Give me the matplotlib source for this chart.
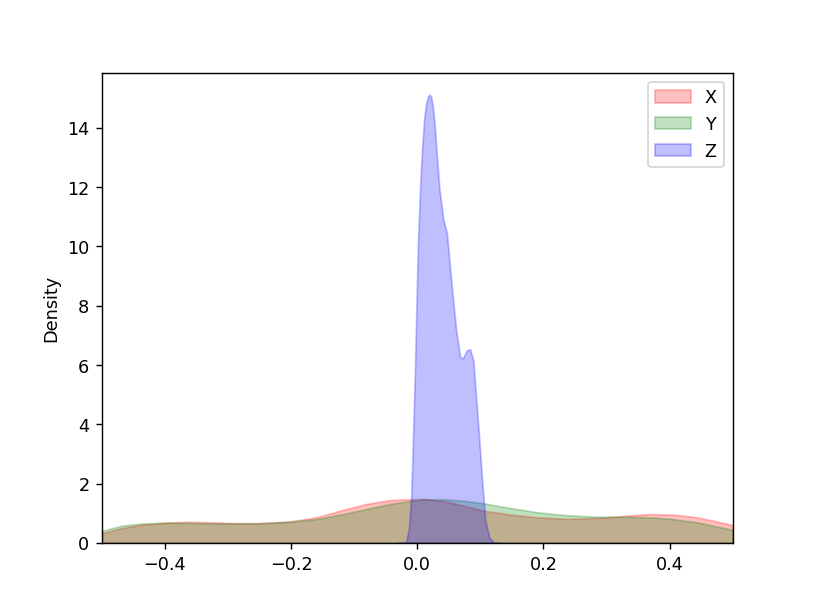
import matplotlib
matplotlib.use("Agg")
import matplotlib.pyplot as plt

# Density curves
x_grid = [-0.5, -0.468, -0.437, -0.397, -0.363, -0.326, -0.289, -0.252, -0.202, -0.160,
          -0.118, -0.081, -0.044, -0.012, 0.012, 0.043, 0.075, 0.106, 0.149, 0.191,
          0.238, 0.286, 0.328, 0.370, 0.407, 0.444, 0.475, 0.5]
x_density = [0.32, 0.50, 0.61, 0.68, 0.71, 0.69, 0.66, 0.66, 0.72, 0.86,
             1.11, 1.31, 1.44, 1.47, 1.48, 1.40, 1.25, 1.08, 0.95, 0.86,
             0.81, 0.84, 0.91, 0.97, 0.95, 0.86, 0.72, 0.60]
y_density = [0.40, 0.58, 0.65, 0.68, 0.67, 0.66, 0.66, 0.66, 0.71, 0.80,
             0.97, 1.14, 1.31, 1.41, 1.47, 1.47, 1.42, 1.33, 1.17, 1.03,
             0.93, 0.88, 0.88, 0.86, 0.80, 0.69, 0.55, 0.44]

z_grid = [-0.03, -0.022, -0.0174, -0.013, -0.0095, -0.004, 0.001, 0.005, 0.008, 0.011,
          0.014, 0.017, 0.0195, 0.022, 0.0248, 0.028, 0.030, 0.0353, 0.0416, 0.047,
          0.0538, 0.0617, 0.068, 0.0722, 0.0785, 0.0838, 0.089, 0.0933, 0.0985,
          0.1028, 0.108, 0.1143, 0.122, 0.13]
z_density = [0.0, 0.0, 0.05, 0.52, 1.53, 5.48, 9.99, 12.2, 13.37, 14.3,
             14.8, 15.05, 15.12, 15.05, 14.72, 14.0, 13.37, 11.9, 10.89, 10.45,
             8.86, 7.17, 6.27, 6.22, 6.49, 6.53, 6.15, 4.91, 3.45,
             2.1, 0.74, 0.18, 0.0, 0.0]

series_labels = ["X", "Y", "Z"]
series_colors = ["r", "g", "b"]

fig, ax = plt.subplots(figsize=(6.4, 4.8), dpi=127.2)

curves = [(x_grid, x_density), (x_grid, y_density), (z_grid, z_density)]
for (xs, ys), lab, col in zip(curves, series_labels, series_colors):
    ax.fill_between(xs, 0, ys, color=col, alpha=0.25, label=lab, linewidth=1.0)

ax.set_xlim(-0.5, 0.5)
ax.set_ylim(0, 15.86)
ax.set_ylabel("Density")
ax.legend(loc="upper right")

fig.savefig("out.png")
